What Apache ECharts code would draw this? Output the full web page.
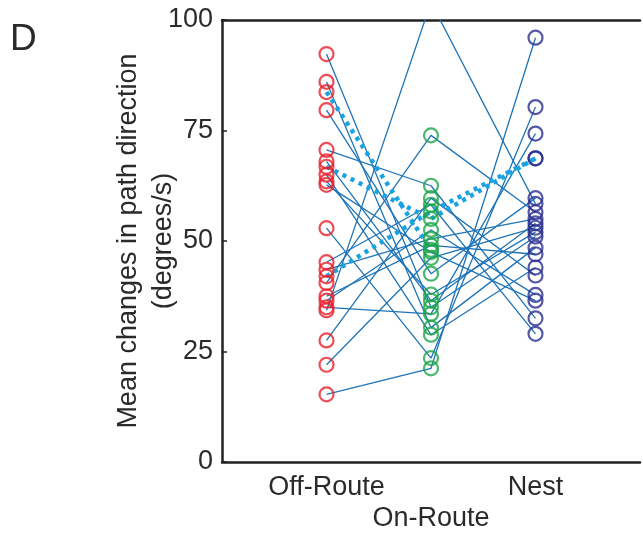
<!DOCTYPE html>
<html>
<head>
<meta charset="utf-8">
<script src="https://cdn.jsdelivr.net/npm/echarts@6/dist/echarts.min.js"></script>
<style>html,body{margin:0;padding:0;background:#fff;}#c{width:643px;height:534px;}</style>
</head>
<body>
<div id="c"></div>
<script>
// ---- data ----
var categories = ['Off-Route', 'On-Route', 'Nest'];
var yTicks = [0, 25, 50, 75, 100];
// individual subjects (solid lines)
var offRoute = [92.3, 86.0, 79.6, 70.6, 34.3, 15.3, 52.9, 22.0, 27.5, 40.5, 68.0, 65.0, 63.5, 62.7, 45.2, 43.5, 37.5, 36.5, 35.0];
var onRoute  = [35.0, 30.4, 42.6, 62.5, 104.0, 21.2, 23.5, 46.2, 59.7, 73.9, 36.5, 28.8, 37.9, 47.5, 58.2, 50.5, 49.0, 52.5, 33.5];
var nest     = [51.0, 48.5, 59.7, 32.5, 58.4, 96.0, 80.3, 53.0, 42.2, 56.5, 54.0, 44.0, 52.0, 36.5, 29.0, 55.0, 47.0, 37.8, 74.3];
// highlighted subjects (dotted lines)
var dottedOff  = [83.7, 66.8, 42.0];
var dottedOn   = [48.0, 55.0, 56.7];
var dottedNest = [null, 68.7, 68.7];

// ---- chart ----
var chart = echarts.init(document.getElementById('c'), null, {renderer: 'canvas'});
var FONT = 'Liberation Sans, Arial, sans-serif';
var TXT = '#2a2a2a';
var series = [];
function pts(a, b, c) {
  var d = [];
  [a, b, c].forEach(function (v, k) { d.push(v == null ? [k, '-'] : [k, v]); });
  return d;
}
for (var i = 0; i < offRoute.length; i++) {
  series.push({
    type: 'line', data: pts(offRoute[i], onRoute[i], nest[i]), symbol: 'none',
    lineStyle: {color: '#1f74b8', width: 1.3}, z: 2, silent: true, clip: true
  });
}
for (var j = 0; j < dottedOff.length; j++) {
  series.push({
    type: 'line', data: pts(dottedOff[j], dottedOn[j], dottedNest[j]), symbol: 'none',
    lineStyle: {color: '#1aa3e0', width: 4.5, type: [4, 5]}, z: 3, silent: true, clip: true
  });
}
var markerColors = ['#e8202a', '#1ba548', '#2b2f8f'];
var groups = [offRoute.concat(dottedOff), onRoute.concat(dottedOn), nest.concat(dottedNest)];
groups.forEach(function (vals, k) {
  series.push({
    type: 'scatter', symbol: 'circle', symbolSize: 14, clip: true, z: 4, silent: true,
    itemStyle: {color: 'rgba(0,0,0,0)', borderColor: markerColors[k], borderWidth: 2.2},
    data: vals.filter(function (v) { return v != null; }).map(function (v) { return [k, v]; })
  });
});

chart.setOption({
  animation: false,
  backgroundColor: '#fff',
  title: {text: 'D', left: 5, top: 16, textStyle: {fontFamily: FONT, fontSize: 37, fontWeight: 'normal', color: TXT}},
  grid: {left: 222, right: 1, top: 20, bottom: 69},
  xAxis: [{
    type: 'value', min: -1, max: 3, interval: 1, position: 'bottom',
    axisLine: {show: true, onZero: false, lineStyle: {color: '#222', width: 2.5}},
    axisTick: {show: false}, splitLine: {show: false},
    axisLabel: {
      margin: 10, fontFamily: FONT, fontSize: 27, color: TXT, lineHeight: 31,
      formatter: function (v) {
        var k = Math.round(v);
        if (k < 0 || k >= categories.length) return '';
        return k === 1 ? '\n' + categories[k] : categories[k];
      }
    }
  }, {
    type: 'value', min: -1, max: 3, position: 'top',
    axisLine: {show: true, onZero: false, lineStyle: {color: '#222', width: 2.5}},
    axisTick: {show: false}, axisLabel: {show: false}, splitLine: {show: false}
  }],
  yAxis: {
    type: 'value', min: yTicks[0], max: yTicks[yTicks.length - 1], interval: 25,
    axisLine: {show: true, onZero: false, lineStyle: {color: '#222', width: 2.5}},
    axisTick: {show: true, inside: true, length: 5, lineStyle: {color: '#222', width: 1.5}},
    splitLine: {show: false},
    axisLabel: {margin: 9, fontFamily: FONT, fontSize: 27, color: TXT},
    name: 'Mean changes in path direction\n(degrees/s)',
    nameLocation: 'middle', nameGap: 41, nameRotate: 90, nameMoveOverlap: false,
    nameTextStyle: {fontFamily: FONT, fontSize: 27, color: TXT, lineHeight: 35}
  },
  series: series
});
</script>
</body>
</html>
